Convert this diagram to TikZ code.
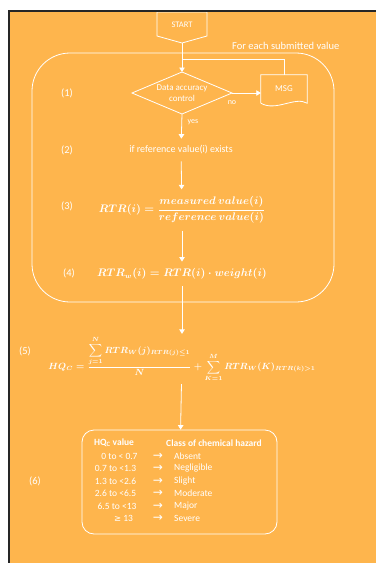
\documentclass[tikz,border=0pt]{standalone}
\usepackage{fontspec}
\usepackage{amsmath}
\setmainfont{Carlito}
\newfontfamily\dejavu{DejaVu Sans}
\usetikzlibrary{arrows.meta}
\definecolor{bgorange}{RGB}{254,181,77}
\begin{document}
\begin{tikzpicture}[x=1pt,y=-1pt,
  every node/.style={text=white, inner sep=1pt, font=\fontsize{10}{12}\selectfont},
  line/.style={draw=white, line width=0.8pt},
  flow/.style={line, -{Triangle[width=5.5pt,length=4.5pt]}},
  steplabel/.style={font=\fontsize{10.5}{12}\selectfont},
  formula/.style={font=\fontsize{10.5}{13}\selectfont\boldmath, outer sep=6pt},
  stagetext/.style={font=\fontsize{10}{12}\selectfont, outer sep=6pt},
  tabtext/.style={font=\fontsize{9.5}{11}\selectfont},
  tabhead/.style={font=\fontsize{9.5}{11}\selectfont\bfseries},
  tabarrow/.style={font=\dejavu\fontsize{12}{12}\selectfont}]
\useasboundingbox (0,0) rectangle (376,563);
\fill[white] (0,0) rectangle (376,563);
\fill[bgorange] (9,11) rectangle (376,563);

% start terminal (off-page connector outline)
\node (start) at (182,25) {\fontsize{8.5}{10}\selectfont START};
\draw[line] (157,12) -- (207,12) -- (207,36) -- (182,43) -- (157,36) -- cycle;
\coordinate (startpt) at (182,43);

% loop frame
\node[line, rounded corners=38pt, minimum width=302pt, minimum height=249pt] (loop) at (183,177.5) {};
\node[anchor=west, font=\fontsize{10.5}{12}\selectfont] (loopcap) at (231,46) {For each submitted value};

% decision
\coordinate (dtop) at (182,72);
\coordinate (dright) at (232,93);
\coordinate (dbot) at (182,114);
\coordinate (dleft) at (132,93);
\draw[line] (dtop) -- (dright) -- (dbot) -- (dleft) -- cycle;
\node[align=center, font=\fontsize{9}{10.5}\selectfont] (dac) at (182,93) {Data accuracy\\control};

% message document
\node[minimum width=46pt, minimum height=28pt, font=\fontsize{9}{10}\selectfont] (msg) at (284,89) {MSG};
\draw[line] (msg.south west) -- (msg.north west) -- (msg.north east) -- (msg.south east)
  .. controls (295,96) and (276,112) .. (msg.south west);
\coordinate (fb) at (182,59);

\draw[flow] (startpt) -- (dtop);
\draw[flow] (dright) -- (dright -| msg.west);
\draw[line] (msg.north) |- (fb);
\node[font=\fontsize{8}{9}\selectfont] (nolab) at (232,103) {no};
\node[font=\fontsize{8}{9}\selectfont] (yeslab) at (193,122) {yes};

% stages
\node[steplabel] (s1) at (67,93) {(1)};
\node[steplabel] (s2) at (67,150) {(2)};
\node[steplabel] (s3) at (67,206) {(3)};
\node[steplabel] (s4) at (69,273) {(4)};
\node[steplabel] (s5) at (25,351) {(5)};
\node[steplabel] (s6) at (35,481) {(6)};

\node[stagetext] (refex) at (181,150) {if reference value(i) exists};
\node[formula] (f3) at (182,210) {$RTR(i)=\dfrac{measured\ value(i)}{reference\ value(i)}$};
\node[formula] (f4) at (182,274) {$RTR_w(i)=RTR(i)\cdot weight(i)$};
\node[formula, font=\fontsize{9}{10}\selectfont\boldmath, outer sep=2pt] (f5) at (182,359)
  {$\displaystyle HQ_C=\frac{\displaystyle\sum_{j=1}^{N}RTR_W(j)_{RTR(j)\le 1}}{N}+\sum_{K=1}^{M}RTR_W(K)_{RTR(k)>1}$};

\draw[flow] (dbot) -- (refex);
\draw[flow] (refex) -- (f3);
\draw[flow] (f3) -- (f4);
\draw[flow] (f4) -- (f5);

% hazard classes
\node[line, rounded corners=12pt, minimum width=195pt, minimum height=104pt] (tab) at (179.5,482) {};
\draw[flow] (f5) -- (tab);
\node[tabhead] (h1) at (114,443) {HQ\textsubscript{C} value};
\node[tabhead] (h2) at (214,443) {Class of chemical hazard};
\foreach \y/\lx/\lt/\rt [count=\i] in {
  456/119.5/0 to < 0.7/Absent,
  468.5/115.5/0.7 to <1.3/Negligible,
  481/115.5/1.3 to <2.6/Slight,
  493.5/115.5/2.6 to <6.5/Moderate,
  506/117/6.5 to <13/Major,
  518/123.5/{\dejavu\fontsize{8.5}{10}\selectfont ≥} 13/Severe} {
  \node[tabtext] (lo\i) at (\lx,\y) {\lt};
  \node[tabarrow] (ar\i) at (158,\y) {→};
  \node[tabtext, anchor=west] (cl\i) at (173,\y) {\rt};
}

% page edges
\draw[black!85, line width=2pt] (9,563) -- (9,11) -- (376,11);
\end{tikzpicture}
\end{document}
